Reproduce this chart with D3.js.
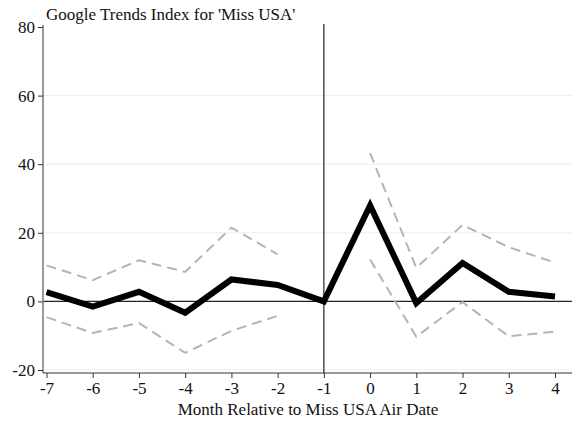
<!DOCTYPE html>
<html><head><meta charset="utf-8">
<script src="https://cdn.jsdelivr.net/npm/d3@7"></script>
<style>body{margin:0;background:#fff}svg{display:block}svg text{font-family:"Liberation Serif","Times New Roman",serif !important;fill:#111}</style>
</head><body><svg id="c" width="576" height="424"></svg>
<script>
const months = [-7,-6,-5,-4,-3,-2,-1,0,1,2,3,4];
const estimate = [2.7,-1.5,2.8,-3.3,6.4,4.8,0,28,-0.5,11.2,2.8,1.4];
const upperPre = [10.5,6.2,12,8.6,21.5,13.7];
const lowerPre = [-4.6,-9.2,-6.3,-15,-8.6,-4.2];
const upperPost = [43.2,9.8,22.3,15.8,11.3];
const lowerPost = [12.2,-10.3,-0.2,-10.2,-8.8];
const monthsPre = [-7,-6,-5,-4,-3,-2];
const monthsPost = [0,1,2,3,4];
const yTicks = [-20,0,20,40,60,80];
const title = "Google Trends Index for 'Miss USA'";
const xTitle = "Month Relative to Miss USA Air Date";

const FONT = "Liberation Serif, Times New Roman, serif";
const svg = d3.select("#c");
const x = d3.scaleLinear().domain([-7,4]).range([46.5,555]);
const y = d3.scaleLinear().domain([-20,80]).range([370,27]);
const fmt = d => String(d);

// gridlines
svg.append("g").selectAll("line").data(yTicks.filter(d=>d!==0 && d!==80)).join("line")
  .attr("x1",44).attr("x2",572).attr("y1",d=>y(d)).attr("y2",d=>y(d))
  .attr("stroke","#e6eff2").attr("stroke-width",1);

// zero line
svg.append("line").attr("x1",44).attr("x2",572).attr("y1",y(0)).attr("y2",y(0))
  .attr("stroke","#222").attr("stroke-width",1.2);
// vertical line at -1
svg.append("line").attr("x1",x(-1)).attr("x2",x(-1)).attr("y1",24).attr("y2",373)
  .attr("stroke","#222").attr("stroke-width",1.2);

// y axis
const ya = svg.append("g").attr("transform","translate(43,0)")
  .call(d3.axisLeft(y).tickValues(yTicks).tickSize(5).tickPadding(3).tickFormat(fmt))
  .attr("font-family",FONT).attr("font-size",17);
ya.select(".domain").attr("d","M0,25V373").attr("stroke","#333");
ya.selectAll(".tick line").attr("stroke","#333");
ya.selectAll("text").attr("font-family",FONT).style("font-size","17px").attr("fill","#111");

// x axis
const xa = svg.append("g").attr("transform","translate(0,373)")
  .call(d3.axisBottom(x).tickValues(months).tickSize(5).tickPadding(4).tickFormat(fmt))
  .attr("font-family",FONT).attr("font-size",17);
xa.select(".domain").attr("d","M43,0H572").attr("stroke","#333");
xa.selectAll(".tick line").attr("stroke","#333");
xa.selectAll("text").attr("font-family",FONT).style("font-size","17px").attr("fill","#111");

const line = d3.line().x(d=>x(d[0])).y(d=>y(d[1]));
const dash = (xs,ys)=>svg.append("path").datum(d3.zip(xs,ys)).attr("d",line)
  .attr("fill","none").attr("stroke","#b4b4b4").attr("stroke-width",2).attr("stroke-dasharray","10,6");
dash(monthsPre,upperPre); dash(monthsPre,lowerPre);
dash(monthsPost,upperPost); dash(monthsPost,lowerPost);

svg.append("path").datum(d3.zip(months,estimate)).attr("d",line)
  .attr("fill","none").attr("stroke","#000").attr("stroke-width",6).attr("stroke-linejoin","miter");

svg.append("text").attr("x",46).attr("y",20).attr("font-family",FONT).style("font-size","17px").text(title);
svg.append("text").attr("x",308).attr("y",415).attr("text-anchor","middle").attr("font-family",FONT).style("font-size","17px").text(xTitle);
</script></body></html>
